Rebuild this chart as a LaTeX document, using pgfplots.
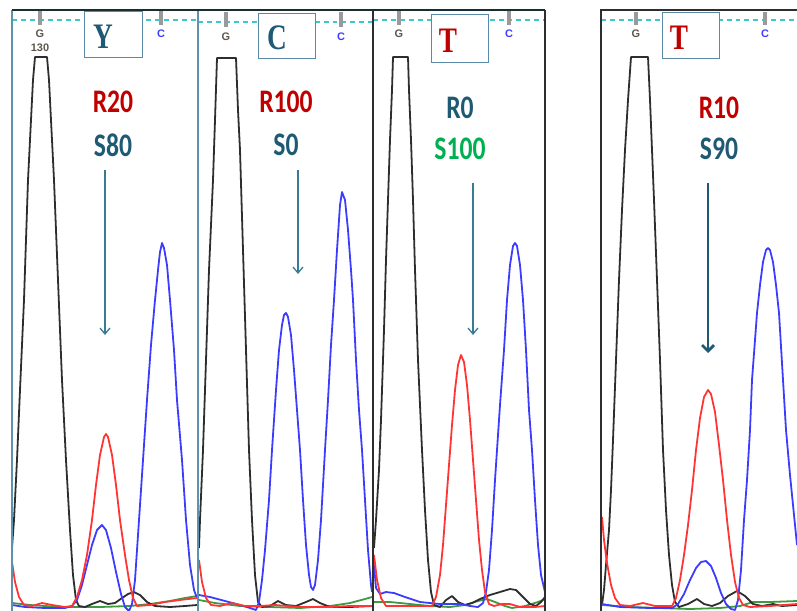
\documentclass[border=0pt]{standalone}
\usepackage{fontspec}
\setmainfont{Carlito}
\newfontfamily\tnr{Liberation Serif}
\newfontfamily\arl{Liberation Sans}
\usepackage{pgfplots}
\pgfplotsset{compat=1.18}
\usetikzlibrary{arrows.meta}

\definecolor{tblack}{HTML}{2E2E2E}
\definecolor{tred}{HTML}{FF3535}
\definecolor{tblue}{HTML}{3C3CFF}
\definecolor{tgreen}{HTML}{3F9A3F}
\definecolor{labred}{HTML}{C00000}
\definecolor{labteal}{HTML}{1F5A74}
\definecolor{labgreen}{HTML}{00B050}
\definecolor{arrteal}{HTML}{3A7A92}
\definecolor{frteal}{HTML}{5E92AA}
\definecolor{boxedge}{HTML}{5A8AA5}
\definecolor{dashcyan}{HTML}{3CC8CC}
\definecolor{tickgrey}{HTML}{9A9A9A}
\definecolor{basegrey}{HTML}{5E564C}

\newcommand{\lab}[1]{\scalebox{0.78}[1]{\fontsize{33}{33}\selectfont\bfseries #1}}
\newcommand{\callbase}[1]{\scalebox{0.76}[1]{\fontsize{36}{36}\selectfont\tnr\bfseries #1}}
\tikzset{
  trace/.style={line width=1.8pt, line join=round},
  base/.style={font=\arl\bfseries\fontsize{11}{11}\selectfont},
}

\begin{document}
\begin{tikzpicture}
\begin{axis}[
  scale only axis, width=797bp, height=611bp,
  xmin=0, xmax=797, ymin=0, ymax=611, y dir=reverse,
  hide axis, clip=true,
]
\path (axis cs:0,0) rectangle (axis cs:797,611);

% dashed reference line and grey base ticks
\draw[dashcyan, line width=1.2pt, dash pattern=on 5pt off 4pt] (axis cs:12,20) -- (axis cs:198,20);
\draw[dashcyan, line width=1.2pt, dash pattern=on 5pt off 4pt] (axis cs:198,22) -- (axis cs:373,22);
\draw[dashcyan, line width=1.2pt, dash pattern=on 5pt off 4pt] (axis cs:373,20) -- (axis cs:545,20);
\draw[dashcyan, line width=1.2pt, dash pattern=on 5pt off 4pt] (axis cs:601,20) -- (axis cs:797,20);
\draw[tickgrey, line width=4.5pt] (axis cs:40,10) -- (axis cs:40,25);
\draw[tickgrey, line width=4.5pt] (axis cs:161,10) -- (axis cs:161,25);
\draw[tickgrey, line width=4.5pt] (axis cs:226,12) -- (axis cs:226,27);
\draw[tickgrey, line width=4.5pt] (axis cs:341,12) -- (axis cs:341,27);
\draw[tickgrey, line width=4.5pt] (axis cs:399,10) -- (axis cs:399,25);
\draw[tickgrey, line width=4.5pt] (axis cs:509,10) -- (axis cs:509,25);
\draw[tickgrey, line width=4.5pt] (axis cs:636,12) -- (axis cs:636,25);
\draw[tickgrey, line width=4.5pt] (axis cs:765,12) -- (axis cs:765,25);

% base labels
\node[basegrey, base] at (axis cs:40,34) {G};
\node[basegrey, base] at (axis cs:40,48) {130};
\node[basegrey, base] at (axis cs:226,37) {G};
\node[basegrey, base] at (axis cs:399,34) {G};
\node[basegrey, base] at (axis cs:636,34) {G};
\node[tblue, base] at (axis cs:161,34) {C};
\node[tblue, base] at (axis cs:341,37) {C};
\node[tblue, base] at (axis cs:509,34) {C};
\node[tblue, base] at (axis cs:765,34) {C};

% call boxes
\draw[boxedge, line width=1pt, fill=white] (axis cs:84,11) rectangle (axis cs:142,57);
\draw[boxedge, line width=1pt, fill=white] (axis cs:258,13) rectangle (axis cs:315,58);
\draw[boxedge, line width=1pt, fill=white] (axis cs:431,14) rectangle (axis cs:488,62);
\draw[boxedge, line width=1pt, fill=white] (axis cs:662,12) rectangle (axis cs:719,58);
\node[labteal] at (axis cs:103,37) {\callbase{Y}};
\node[labteal] at (axis cs:277,38) {\callbase{C}};
\node[labred] at (axis cs:448,41) {\callbase{T}};
\node[labred] at (axis cs:679,38) {\callbase{T}};

% ---- panel 1 ----
\addplot[tgreen, trace] coordinates {(12,603) (30,605) (60,607) (100,607) (130,606) (150,604) (170,601) (185,598) (197,596)};
\addplot[tblack, trace] coordinates {(12,548) (14,520) (17,460) (20,390) (24,300) (28,180) (31,120) (33,80) (35,57) (47,57) (49,80) (51,120) (54,180) (58,280) (62,380) (66,460) (70,530) (73,575) (76,600) (79,606) (85,607) (92,604) (100,601) (108,604) (115,603) (122,598) (128,594) (134,592) (140,595) (147,602) (155,606) (170,607) (185,606) (197,605)};
\addplot[tblue, trace] coordinates {(12,605) (25,607) (45,608) (65,608) (72,606) (77,600) (82,585) (87,565) (92,545) (97,530) (102,525) (106,530) (111,548) (116,572) (121,594) (125,607) (129,611) (132,604) (135,580) (139,520) (143,460) (147,400) (151,345) (155,300) (158,270) (160,252) (162,243) (164,248) (167,265) (170,300) (174,350) (177,400) (182,460) (186,520) (190,565) (194,590) (197,598)};
\addplot[tred, trace] coordinates {(12,562) (15,582) (19,597) (24,605) (32,606) (42,603) (52,605) (65,607) (72,606) (77,597) (82,580) (87,555) (92,520) (96,485) (100,455) (104,437) (106,434) (108,437) (112,455) (116,485) (120,520) (125,555) (129,580) (133,598) (137,606) (150,605) (165,602) (180,600) (197,598)};

% ---- panel 2 ----
\addplot[tgreen, trace] coordinates {(199,600) (215,603) (240,606) (270,607) (300,608) (330,606) (350,603) (365,599) (372,597)};
\addplot[tblack, trace] coordinates {(199,548) (200,520) (203,450) (206,360) (209,270) (213,180) (215,120) (217,58) (236,58) (238,110) (240,150) (243,250) (246,350) (249,450) (252,520) (255,575) (258,602) (262,607) (270,606) (278,601) (286,605) (296,606) (306,602) (313,599) (320,603) (330,607) (350,607) (372,606)};
\addplot[tblue, trace] coordinates {(199,595) (210,597) (225,601) (240,605) (250,608) (256,610) (259,602) (262,580) (265,550) (269,500) (272,450) (276,390) (279,350) (282,325) (284,315) (286,313) (288,317) (291,335) (294,370) (297,410) (300,450) (303,500) (306,545) (309,575) (311,587) (313,590) (315,585) (318,560) (321,520) (325,450) (328,400) (331,345) (334,300) (337,250) (340,205) (342,192) (345,200) (348,230) (351,270) (353,300) (356,360) (359,410) (362,450) (365,500) (368,550) (371,585) (372,592)};
\addplot[tred, trace] coordinates {(199,560) (202,582) (206,598) (211,605) (220,606) (232,603) (245,606) (260,606) (275,605) (300,607) (330,607) (350,606) (372,606)};

% ---- panel 3 ----
\addplot[tgreen, trace] coordinates {(374,602) (390,602) (410,604) (430,606) (450,607) (465,605) (478,601) (487,599) (495,602) (505,606) (512,608) (525,606) (538,602) (545,599)};
\addplot[tblack, trace] coordinates {(374,548) (376,520) (379,470) (381,420) (384,330) (386,260) (388,200) (390,140) (392,90) (393,57) (408,57) (409,90) (411,140) (413,200) (415,270) (418,360) (422,450) (425,510) (428,560) (431,592) (434,605) (440,607) (446,600) (452,596) (458,602) (465,605) (472,603) (480,599) (490,595) (500,592) (510,589) (516,590) (522,596) (530,604) (536,606) (541,602) (545,597)};
\addplot[tblue, trace] coordinates {(374,565) (376,588) (380,594) (386,592) (394,593) (405,597) (420,602) (440,604) (460,604) (470,606) (478,607) (483,603) (486,592) (489,570) (492,530) (495,480) (497,450) (500,405) (504,350) (507,300) (510,265) (513,246) (515,243) (517,246) (520,265) (523,300) (526,350) (529,410) (532,450) (535,500) (538,545) (541,575) (545,592)};
\addplot[tred, trace] coordinates {(374,555) (377,580) (381,598) (386,606) (400,606) (420,606) (432,606) (436,597) (440,575) (443,545) (446,505) (449,465) (452,425) (455,390) (458,365) (461,355) (464,362) (467,385) (470,420) (473,460) (476,500) (479,540) (482,570) (485,592) (489,604) (494,606) (502,604) (510,604) (520,607) (535,607) (545,606)};

% ---- panel 4 ----
\addplot[tgreen, trace] coordinates {(602,605) (630,607) (660,608) (690,609) (720,608) (740,606) (753,602) (770,602) (797,601)};
\addplot[tblack, trace] coordinates {(602,605) (604,590) (606,565) (609,530) (611,490) (613,440) (616,360) (619,280) (622,210) (625,150) (628,100) (631,57) (648,57) (650,100) (652,150) (654,200) (657,280) (660,360) (663,450) (666,510) (669,555) (672,585) (675,602) (679,607) (688,604) (697,599) (704,604) (712,606) (720,603) (728,596) (737,591) (745,596) (753,604) (762,606) (773,604) (782,606) (797,605)};
\addplot[tblue, trace] coordinates {(602,604) (620,607) (650,608) (672,608) (678,604) (684,594) (690,580) (696,568) (701,562) (706,561) (711,566) (716,578) (721,593) (726,604) (731,609) (735,610) (738,600) (741,570) (744,520) (747,480) (750,430) (752,380) (755,340) (757,313) (760,285) (763,262) (766,250) (768,248) (770,250) (773,262) (776,285) (779,313) (783,380) (786,430) (790,475) (794,515) (797,545)};
\addplot[tred, trace] coordinates {(602,517) (604,540) (607,563) (611,585) (615,598) (620,605) (630,606) (643,603) (655,606) (672,606) (676,598) (680,580) (684,555) (688,525) (692,490) (696,450) (700,418) (704,397) (708,390) (711,394) (715,412) (719,445) (723,480) (727,520) (731,555) (735,582) (739,598) (743,605) (750,607) (770,606) (797,604)};

% panel frames
\draw[frteal, line width=1.3pt] (axis cs:12,611) -- (axis cs:12,10);
\draw[frteal, line width=1.3pt] (axis cs:198,611) -- (axis cs:198,10);
\draw[tblack, line width=1.3pt] (axis cs:373,611) -- (axis cs:373,10);
\draw[tblack, line width=1.3pt] (axis cs:545,611) -- (axis cs:545,10);
\draw[black!70!frteal, line width=1.7pt] (axis cs:12,10) -- (axis cs:545,10);
\draw[tblack, line width=1.3pt] (axis cs:601,611) -- (axis cs:601,10) -- (axis cs:797,10);

% ratio labels
\node[labred] at (axis cs:113,102) {\lab{R20}};
\node[labteal] at (axis cs:113,145) {\lab{S80}};
\node[labred] at (axis cs:286,102) {\lab{R100}};
\node[labteal] at (axis cs:286,145) {\lab{S0}};
\node[labteal] at (axis cs:460,108) {\lab{R0}};
\node[labgreen] at (axis cs:460,149) {\lab{S100}};
\node[labred] at (axis cs:719,108) {\lab{R10}};
\node[labteal] at (axis cs:719,149) {\lab{S90}};

% arrows
\draw[arrteal, line width=1.3pt, -{Straight Barb[length=6pt, width=10pt]}] (axis cs:105,170) -- (axis cs:105,335);
\draw[arrteal, line width=1.3pt, -{Straight Barb[length=6pt, width=10pt]}] (axis cs:298,170) -- (axis cs:298,274);
\draw[arrteal, line width=1.3pt, -{Straight Barb[length=6pt, width=10pt]}] (axis cs:473,183) -- (axis cs:473,335);
\draw[labteal, line width=2.8pt, -{Straight Barb[length=6pt, width=12pt]}] (axis cs:708,183) -- (axis cs:708,353);
\end{axis}
\end{tikzpicture}
\end{document}
